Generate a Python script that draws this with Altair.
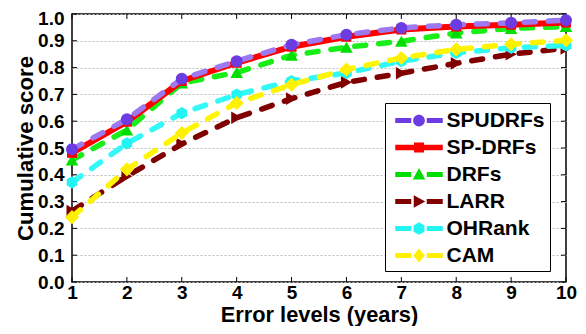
import altair as alt
import pandas as pd

# ---- data ----
levels = [1, 2, 3, 4, 5, 6, 7, 8, 9, 10]
series_names = ["SPUDRFs", "SP-DRFs", "DRFs", "LARR", "OHRank", "CAM"]
spudrfs = [0.495, 0.607, 0.758, 0.824, 0.885, 0.923, 0.948, 0.960, 0.967, 0.977]
sp_drfs = [0.482, 0.598, 0.750, 0.818, 0.878, 0.915, 0.942, 0.953, 0.960, 0.968]
drfs = [0.455, 0.567, 0.742, 0.782, 0.846, 0.876, 0.898, 0.929, 0.946, 0.953]
larr = [0.265, 0.395, 0.515, 0.613, 0.684, 0.745, 0.779, 0.816, 0.850, 0.872]
ohrank = [0.372, 0.517, 0.630, 0.699, 0.750, 0.780, 0.824, 0.855, 0.874, 0.883]
cam = [0.242, 0.420, 0.556, 0.668, 0.736, 0.793, 0.836, 0.868, 0.887, 0.902]
y_ticks = [0.0, 0.1, 0.2, 0.3, 0.4, 0.5, 0.6, 0.7, 0.8, 0.9, 1.0]

values = {"SPUDRFs": spudrfs, "SP-DRFs": sp_drfs, "DRFs": drfs,
          "LARR": larr, "OHRank": ohrank, "CAM": cam}
rows = []
for name in series_names:
    for lv, sc in zip(levels, values[name]):
        rows.append({"level": lv, "score": sc, "series": name})
df = pd.DataFrame(rows)

# ---- styles ----
W, H = 494, 268
line_colors = {"SPUDRFs": "#9D78F0", "SP-DRFs": "#FF0000", "DRFs": "#19EE19",
               "LARR": "#800000", "OHRank": "#33F8F8", "CAM": "#FFF500"}
marker_colors = {"SPUDRFs": "#6C3BE2", "SP-DRFs": "#FF0000", "DRFs": "#00DD00",
                 "LARR": "#800000", "OHRank": "#22F4F4", "CAM": "#FFF000"}
hexagon = "M0,-1L0.866,-0.5L0.866,0.5L0,1L-0.866,0.5L-0.866,-0.5Z"
shapes = {"SPUDRFs": "circle", "SP-DRFs": "square", "DRFs": "triangle-up",
          "LARR": "triangle-right", "OHRank": hexagon, "CAM": "diamond"}
sizes = {"SPUDRFs": 144, "SP-DRFs": 100, "DRFs": 160, "LARR": 160,
         "OHRank": 150, "CAM": 200}
draw_order = ["LARR", "OHRank", "CAM", "DRFs", "SP-DRFs", "SPUDRFs"]

# legend symbols: line segments + marker (custom paths)
bar_dashed = "M-1.9,-0.2H-0.62V0.2H-1.9Z M0.62,-0.2H1.9V0.2H0.62Z "
bar_solid = "M-1.9,-0.22H1.9V0.22H-1.9Z "
leg_paths = {
    "SPUDRFs": bar_dashed + "M0.47,0A0.47,0.47,0,1,1,-0.47,0A0.47,0.47,0,1,1,0.47,0Z",
    "SP-DRFs": bar_solid + "M-0.4,-0.4H0.4V0.4H-0.4Z",
    "DRFs": bar_dashed + "M0,-0.52L0.5,0.4L-0.5,0.4Z",
    "LARR": bar_dashed + "M0.5,0L-0.42,-0.5L-0.42,0.5Z",
    "OHRank": bar_dashed + "M0,-0.5L0.44,-0.25L0.44,0.25L0,0.5L-0.44,0.25L-0.44,-0.25Z",
    "CAM": bar_dashed + "M0,-0.56L0.46,0L0,0.56L-0.46,0Z",
}
sig = "'" + leg_paths["CAM"] + "'"
for name in ["OHRank", "LARR", "DRFs", "SP-DRFs", "SPUDRFs"]:
    sig = "datum.value === '" + name + "' ? '" + leg_paths[name] + "' : (" + sig + ")"

legend = alt.Legend(
    title=None, orient="none", legendX=313, legendY=89,
    padding=5, rowPadding=4.0, symbolOffset=16.5, labelOffset=15,
    labelFont="Liberation Sans", labelFontWeight="bold", labelFontSize=21,
    labelColor="black", strokeColor="black", fillColor="white",
    symbolSize=625, symbolStrokeWidth=0,
    symbolType=alt.ExprRef(expr=sig),
)

xscale = alt.Scale(domain=[1, 10], nice=False, zero=False)
yscale = alt.Scale(domain=[0, 1], nice=False)
x_axis = alt.Axis(values=levels, format="d", title="Error levels (years)", grid=False,
                  tickSize=0, domain=False, labelPadding=1, labelFlush=False,
                  titleFontSize=21.8, titleY=39, titleBaseline="alphabetic")
y_axis = alt.Axis(values=y_ticks, format=".1f", title="Cumulative score", grid=True,
                  gridDash=[2, 2], gridColor="#BDBDBD", gridWidth=1,
                  tickSize=0, domain=False, labelPadding=8, labelFlush=False,
                  labelOffset=alt.condition("datum.value > 0.99", alt.value(4.5), alt.value(0)),
                  titleFontSize=22.2, titleX=-40, titleBaseline="alphabetic",
                  titleAngle=270)

layers = []

# inward tick marks on all four sides
yt = alt.Chart(pd.DataFrame({"v": y_ticks}))
xt = alt.Chart(pd.DataFrame({"v": levels}))
layers.append(yt.mark_rule(color="black", strokeWidth=1).encode(
    y=alt.Y("v:Q", scale=yscale, axis=y_axis), x=alt.value(0), x2=alt.value(5)))
layers.append(yt.mark_rule(color="black", strokeWidth=1).encode(
    y=alt.Y("v:Q", scale=yscale, axis=y_axis), x=alt.value(W), x2=alt.value(W - 5)))
layers.append(xt.mark_rule(color="black", strokeWidth=1).encode(
    x=alt.X("v:Q", scale=xscale, axis=x_axis), y=alt.value(H), y2=alt.value(H - 5)))
layers.append(xt.mark_rule(color="black", strokeWidth=1).encode(
    x=alt.X("v:Q", scale=xscale, axis=x_axis), y=alt.value(0), y2=alt.value(5)))

base = alt.Chart(df)
for name in draw_order:
    sub = base.transform_filter(alt.datum.series == name)
    kw = dict(color=line_colors[name], strokeCap="round", strokeJoin="round")
    if name == "SP-DRFs":
        kw["strokeWidth"] = 6
    else:
        kw["strokeWidth"] = 5.5
        kw["strokeDash"] = [11, 13]
    layers.append(sub.mark_line(**kw).encode(
        x=alt.X("level:Q", scale=xscale, axis=x_axis),
        y=alt.Y("score:Q", scale=yscale, axis=y_axis)))
    layers.append(sub.mark_point(filled=True, opacity=1, shape=shapes[name],
                                 size=sizes[name]).encode(
        x=alt.X("level:Q", scale=xscale, axis=x_axis),
        y=alt.Y("score:Q", scale=yscale, axis=y_axis),
        color=alt.Color("series:N", legend=legend,
                        scale=alt.Scale(domain=series_names,
                                        range=[marker_colors[n] for n in series_names]))))

chart = alt.layer(*layers).properties(
    width=W, height=H,
    padding={"left": 64, "top": 6, "right": 12, "bottom": 44},
    autosize=alt.AutoSizeParams(type="none"),
).configure_axis(
    labelFont="Liberation Sans", labelFontWeight="bold", labelFontSize=19,
    labelColor="black", titleFont="Liberation Sans", titleFontWeight="bold",
    titleColor="black",
).configure_view(stroke="black", strokeWidth=1.5)

chart.save("out.html", embed_options={"renderer": "svg", "actions": False})
